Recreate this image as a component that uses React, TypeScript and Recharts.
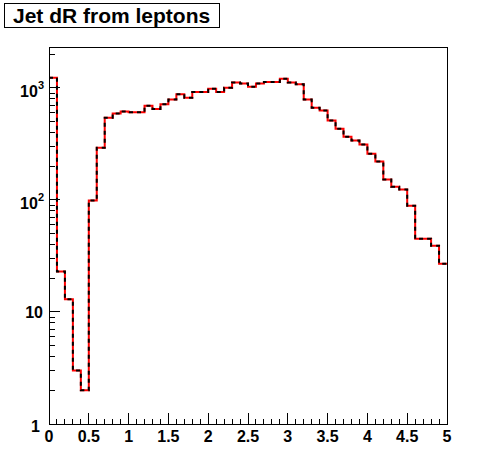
import { ComposedChart, Line, XAxis, YAxis, ReferenceArea } from 'recharts';

// bin contents, 50 bins of width 0.1 from 0 to 5
const binWidth = 0.1;
const counts = [
  1236, 23, 13, 3, 2, 99, 293, 543, 590, 615,
  607, 607, 695, 649, 715, 787, 878, 819, 921, 921,
  986, 921, 1006, 1116, 1093, 1027, 1093, 1131, 1131, 1211,
  1116, 1079, 787, 667, 628, 511, 433, 367, 339, 312,
  259, 220, 152, 131, 124, 89, 45, 45, 39, 27,
];

const xTicks = Array.from({ length: 51 }, (_, i) => i / 10);
const yMajor = [1, 10, 100, 1000];
const yTicks = [
  1, 2, 3, 4, 5, 6, 7, 8, 9,
  10, 20, 30, 40, 50, 60, 70, 80, 90,
  100, 200, 300, 400, 500, 600, 700, 800, 900,
  1000, 2000,
];
const yMax = 2320;

const font = '"Liberation Sans", Arial, Helvetica, sans-serif';

// step points: one per low edge, plus the upper edge of the last bin
const data = [
  ...counts.map((c, i) => ({ x: Math.round(i * binWidth * 10) / 10, y: c })),
  { x: 5, y: counts[counts.length - 1] },
];

const XTick = ({ x, y, payload }: any) => {
  const v = payload.value;
  const major = Math.round(v * 10) % 5 === 0;
  return (
    <g>
      <line x1={x} x2={x} y1={y} y2={y - (major ? 11 : 5)} stroke="#000" strokeWidth={1} shapeRendering="crispEdges" />
      {major && (
        <text x={x} y={y + 18} textAnchor="middle" fontFamily={font} fontWeight="bold" fontSize={16} fill="#000">
          {String(v)}
        </text>
      )}
    </g>
  );
};

const YTick = ({ x, y, payload }: any) => {
  const v = payload.value;
  const major = yMajor.includes(v);
  const exp = Math.round(Math.log10(v));
  return (
    <g>
      <line x1={x} x2={x + (major ? 11 : 6)} y1={y} y2={y} stroke="#000" strokeWidth={1} shapeRendering="crispEdges" />
      {major && exp === 0 && (
        <text x={x - 9} y={y + 8} textAnchor="end" fontFamily={font} fontWeight="bold" fontSize={16} fill="#000">1</text>
      )}
      {major && exp === 1 && (
        <text x={x - 6} y={y + 6} textAnchor="end" fontFamily={font} fontWeight="bold" fontSize={16} fill="#000">10</text>
      )}
      {major && exp > 1 && (
        <text x={x - 5} y={y + 9} textAnchor="end" fontFamily={font} fontWeight="bold" fontSize={16} fill="#000">
          10<tspan dy={-8} fontSize={11}>{exp}</tspan>
        </text>
      )}
    </g>
  );
};

export default function App() {
  return (
    <div style={{ position: 'absolute', left: 0, top: 0, width: 496, height: 472, background: '#fff' }}>
      <div
        style={{
          position: 'absolute', left: 4, top: 3, width: 206, height: 23,
          border: '1px solid #000', fontFamily: font, fontWeight: 'bold', fontSize: 21,
          lineHeight: '23px', paddingLeft: 8, boxSizing: 'content-box', background: '#fff', zIndex: 2,
          whiteSpace: 'nowrap',
        }}
      >
        Jet dR from leptons
      </div>
      <ComposedChart width={496} height={472} data={data} margin={{ top: 47, right: 49, bottom: 18, left: 9 }}>
        <ReferenceArea x1={0} x2={5} y1={1} y2={yMax} fill="none" stroke="#000" strokeWidth={1} ifOverflow="visible" shapeRendering="crispEdges" />
        <XAxis
          dataKey="x"
          type="number"
          domain={[0, 5]}
          ticks={xTicks}
          interval={0}
          height={30}
          tickSize={0}
          tickMargin={0}
          tickLine={false}
          axisLine={{ stroke: '#000', shapeRendering: 'crispEdges' }}
          tick={<XTick />}
        />
        <YAxis
          type="number"
          scale="log"
          domain={[1, yMax]}
          allowDataOverflow
          ticks={yTicks}
          interval={0}
          width={40}
          tickSize={0}
          tickMargin={0}
          tickLine={false}
          axisLine={{ stroke: '#000', shapeRendering: 'crispEdges' }}
          tick={<YTick />}
        />
        <Line dataKey="y" type="stepAfter" stroke="#ff0000" strokeWidth={2} dot={false} isAnimationActive={false} />
        <Line dataKey="y" type="stepAfter" stroke="#000" strokeWidth={2} strokeDasharray="4 4" dot={false} isAnimationActive={false} />
      </ComposedChart>
    </div>
  );
}
